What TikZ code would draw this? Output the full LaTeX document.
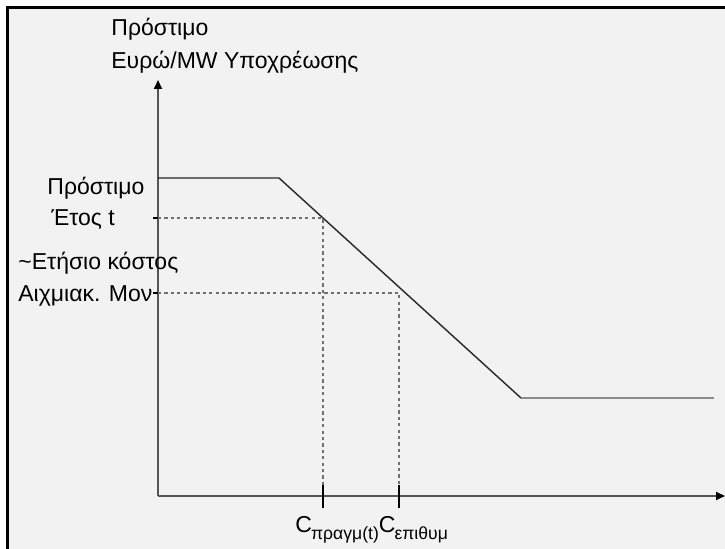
\documentclass[tikz,border=0pt]{standalone}
\usepackage{fontspec}
\setmainfont{Liberation Sans}
\usetikzlibrary{arrows.meta}
\definecolor{paper}{HTML}{F2F2F2}
\definecolor{axisgrey}{HTML}{555555}
\definecolor{guidegrey}{HTML}{707070}
\begin{document}
\begin{tikzpicture}[x=0.5pt,y=-0.5pt,
    every node/.style={inner sep=0pt,anchor=base west,font=\fontsize{11.5}{14}\selectfont},
    axis/.style={draw=axisgrey,line width=1pt,-{Triangle[length=4.5pt,width=4pt,color=black]}},
    curve/.style={draw=black!85,line width=0.7pt},
    guide/.style={draw=guidegrey,line width=0.6pt,dash pattern=on 1.6pt off 1.6pt},
    tickmark/.style={draw=black,line width=1pt}]
  \useasboundingbox (0,0) rectangle (725,549);
  \fill[white] (0,0) rectangle (725,549);
  \fill[paper] (7.5,8) rectangle (725,549);
  \draw[line width=1.5pt] (7.5,549) -- (7.5,8) -- (725,8);
  % axes
  \coordinate (o) at (158,496);
  \coordinate (ytop) at (158,80);
  \coordinate (xend) at (725,496);
  \draw[axis] (o) -- (ytop);
  \draw[axis] (o) -- (xend);
  % penalty curve
  \coordinate (p0) at (158,178);
  \coordinate (p1) at (279,178);
  \coordinate (p2) at (521,398);
  \coordinate (p3) at (714,398);
  \draw[curve] (p0) -- (p1) -- (p2);
  \draw[draw=black!45,line width=0.9pt] (p2) -- (p3);
  % guide lines
  \coordinate (ya) at (158,218);
  \coordinate (yb) at (158,293);
  \coordinate (ca) at (323,218);
  \coordinate (cb) at (399,293);
  \coordinate (xa) at (323,496);
  \coordinate (xb) at (399,496);
  \draw[guide] (ya) -- (ca) -- (xa);
  \draw[guide] (yb) -- (cb) -- (xb);
  \draw[tickmark] (153,218) -- (ya);
  \draw[tickmark] (153,293) -- (yb);
  \draw[tickmark] (323,485) -- (323,508);
  \draw[tickmark] (399,485) -- (399,508);
  % labels
  \node (ylab1) at (111,36) {Πρόστιμο};
  \node (ylab2) at (111,69) {Ευρώ/MW Υποχρέωσης};
  \node (fine1) at (47,195) {Πρόστιμο};
  \node (fine2) at (51,226) {Έτος t};
  \node (cost1) at (18,270) {\textasciitilde Ετήσιο κόστος};
  \node (cost2) at (18,302) {Αιχμιακ. Μον};
  \node (clab) at (295,533) {C\kern-0.5pt\raisebox{-0.55ex}{\fontsize{8.8}{10}\selectfont πραγμ(t)}C\kern-0.5pt\raisebox{-0.55ex}{\fontsize{8.8}{10}\selectfont επιθυμ}};
\end{tikzpicture}
\end{document}
